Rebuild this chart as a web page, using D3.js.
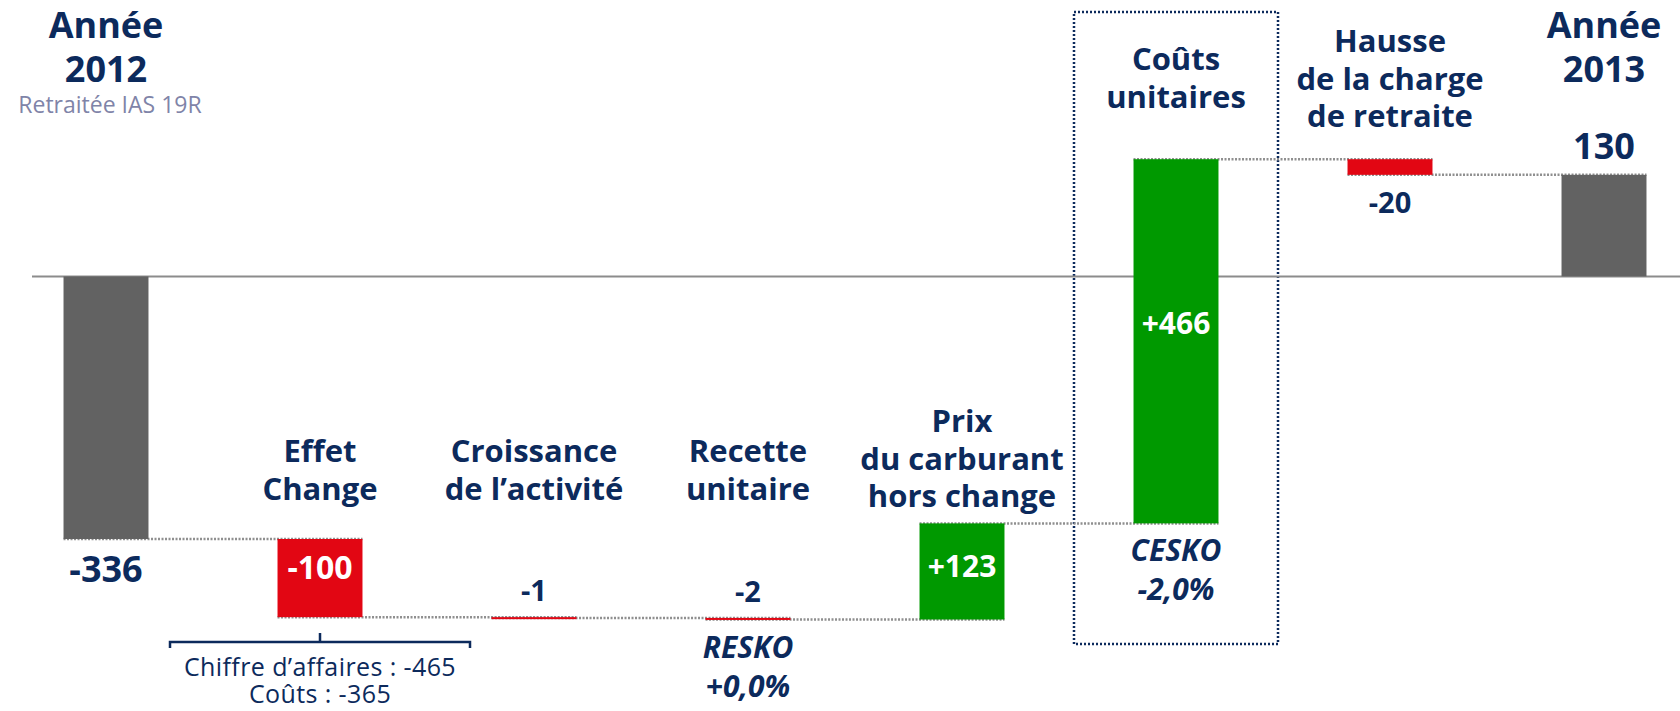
<!DOCTYPE html>
<html>
<meta charset="utf-8">
<head>
<script src="https://cdnjs.cloudflare.com/ajax/libs/d3/7.8.5/d3.min.js"></script>
<style>
  body { margin: 0; background: #fff; }
  text { font-family: "Open Sans", sans-serif; }
</style>
</head>
<body>
<script>
// data
const categories = ["Année 2012", "Effet Change", "Croissance de l’activité", "Recette unitaire",
  "Prix du carburant hors change", "Coûts unitaires", "Hausse de la charge de retraite", "Année 2013"];
const labelLines = [["Année", "2012"], ["Effet", "Change"], ["Croissance", "de l’activité"], ["Recette", "unitaire"],
  ["Prix", "du carburant", "hors change"], ["Coûts", "unitaires"], ["Hausse", "de la charge", "de retraite"], ["Année", "2013"]];
const values = [-336, -100, -1, -2, 123, 466, -20, 130];
const isTotal = [true, false, false, false, false, false, false, true];
const valueLabels = ["-336", "-100", "-1", "-2", "+123", "+466", "-20", "130"];
const kpiLabels = [null, null, null, ["RESKO", "+0,0%"], null, ["CESKO", "-2,0%"], null, null];
const noteLines = ["Chiffre d’affaires : -465", "Coûts : -365"];
const subtitle = "Retraitée IAS 19R";

// layout
const W = 1680, H = 711;
const navy = "#0c2a5c", gray = "#626262", red = "#e20613", green = "#009900";
const labelTop = [38, 462, 462, 462, 432, 70, 52, 38];
const labelPos = ["below", "insideTop", "above", "above", "inside", "inside", "below", "above"];
const valueSize = [36, 32, 29, 29, 30, 30, 29, 36];

const svg = d3.select("body").append("svg")
  .attr("width", W).attr("height", H);

const x = d3.scaleBand()
  .domain(categories)
  .range([-1, 1711])
  .paddingInner(0.603)
  .paddingOuter(0.3015);
const bw = x.bandwidth();
const cx = d => x(d) + bw / 2;

const y = d3.scaleLinear()
  .domain([-450, 350])
  .range([628.1, 2.9]);

// running totals
let run = 0;
const bars = values.map((v, i) => {
  let start, end;
  if (isTotal[i]) { start = 0; end = v; }
  else { start = run; end = run + v; }
  run = end;
  return { cat: categories[i], v, start, end, i,
    top: Math.max(start, end), bottom: Math.min(start, end) };
});

// box around Coûts unitaires
const boxCat = categories[5];
svg.append("rect")
  .attr("x", cx(boxCat) - 102).attr("y", 12)
  .attr("width", 204).attr("height", 632)
  .attr("fill", "none").attr("stroke", navy)
  .attr("stroke-width", 2.5).attr("stroke-dasharray", "2,2");

// zero line
svg.append("line")
  .attr("x1", 32).attr("x2", W)
  .attr("y1", y(0)).attr("y2", y(0))
  .attr("stroke", "#8c8c8c").attr("stroke-width", 2);

// connectors
svg.selectAll("line.conn")
  .data(bars.slice(0, -1))
  .enter()
  .append("line")
  .attr("class", "conn")
  .attr("x1", d => x(d.cat))
  .attr("x2", d => x(categories[d.i + 1]) + bw)
  .attr("y1", d => y(d.end))
  .attr("y2", d => y(d.end))
  .attr("stroke", "#8f8f8f")
  .attr("stroke-width", 2.5)
  .attr("stroke-dasharray", "2,1.5");

// bars
svg.selectAll("rect.bar")
  .data(bars)
  .enter()
  .append("rect")
  .attr("class", "bar")
  .attr("x", d => x(d.cat))
  .attr("width", bw)
  .attr("y", d => y(d.top))
  .attr("height", d => Math.max(2, y(d.bottom) - y(d.top)))
  .attr("fill", d => isTotal[d.i] ? gray : (d.v < 0 ? red : green));

// category labels
bars.forEach(d => {
  const t = svg.append("text")
    .attr("text-anchor", "middle")
    .attr("fill", navy)
    .attr("font-weight", 700)
    .attr("font-size", isTotal[d.i] ? 36 : 31);
  labelLines[d.i].forEach((line, k) => {
    t.append("tspan")
      .attr("x", cx(d.cat))
      .attr("y", labelTop[d.i] + k * (isTotal[d.i] ? 44 : 37.5))
      .text(line);
  });
});

svg.append("text")
  .attr("x", cx(categories[0]) + 4).attr("y", 113)
  .attr("text-anchor", "middle")
  .attr("fill", "#7f84a8")
  .attr("font-size", 23)
  .text(subtitle);

// value labels
svg.selectAll("text.val")
  .data(bars)
  .enter()
  .append("text")
  .attr("class", "val")
  .attr("x", d => cx(d.cat))
  .attr("y", d => {
    const s = valueSize[d.i], cap = s * 0.714;
    const pos = labelPos[d.i];
    if (pos === "below") return y(d.bottom) + cap + 17;
    if (pos === "above") return y(d.top) - 16;
    if (pos === "insideTop") return y(d.top) + 40;
    return y(d.top) + (y(d.bottom) - y(d.top)) * 0.45 + cap / 2;
  })
  .attr("text-anchor", "middle")
  .attr("font-size", d => valueSize[d.i])
  .attr("font-weight", 700)
  .attr("fill", d => labelPos[d.i].startsWith("inside") ? "#fff" : navy)
  .text(d => valueLabels[d.i]);

// RESKO / CESKO
bars.filter(d => kpiLabels[d.i]).forEach(d => {
  const t = svg.append("text")
    .attr("text-anchor", "middle")
    .attr("fill", navy)
    .attr("font-weight", 700)
    .attr("font-style", "italic")
    .attr("font-size", 30);
  kpiLabels[d.i].forEach((line, k) => {
    t.append("tspan")
      .attr("x", cx(d.cat))
      .attr("y", y(d.bottom) + 38 + k * 39)
      .text(line);
  });
});

// bracket under Effet Change
const bx = cx(categories[1]), by = 642;
svg.append("path")
  .attr("d", `M${bx - 150},${by + 6}V${by}H${bx + 150}V${by + 6}M${bx},${by}V${by - 9}`)
  .attr("fill", "none").attr("stroke", navy).attr("stroke-width", 2.5);

svg.append("g")
  .selectAll("text")
  .data(noteLines)
  .enter()
  .append("text")
  .attr("x", bx)
  .attr("y", (d, i) => 676 + i * 27)
  .attr("text-anchor", "middle")
  .attr("fill", navy)
  .attr("font-size", 25)
  .attr("letter-spacing", 0.4)
  .text(d => d);
</script>
</body>
</html>
